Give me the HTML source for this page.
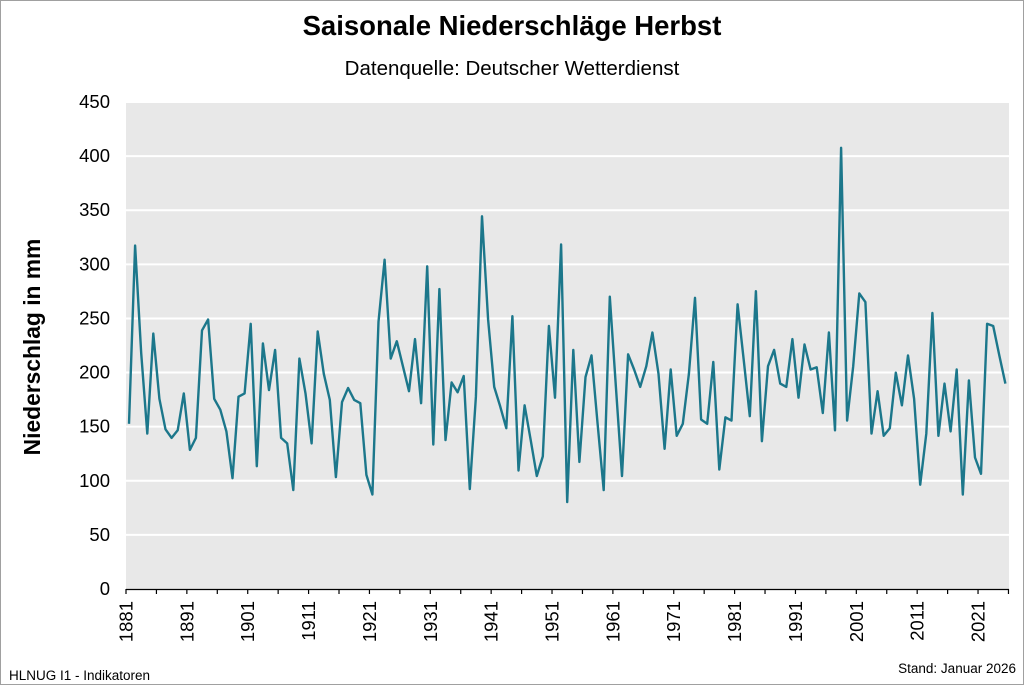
<!DOCTYPE html>
<html><head><meta charset="utf-8"><style>
html,body{margin:0;padding:0;background:#fff}
svg{display:block}
text{font-family:"Liberation Sans",Arial,sans-serif}
</style></head><body>
<svg id="s" width="1024" height="685" viewBox="0 0 1024 685" xmlns="http://www.w3.org/2000/svg">
<rect x="0.5" y="0.5" width="1023" height="684" fill="#fff" stroke="#a0a0a0" stroke-width="1"/>
<text x="512" y="35" text-anchor="middle" font-size="27.5" font-weight="bold" fill="#000">Saisonale Niederschläge Herbst</text>
<text x="512" y="75" text-anchor="middle" font-size="20.5" fill="#000">Datenquelle: Deutscher Wetterdienst</text>
<rect x="126" y="102" width="883" height="487" fill="#e8e8e8"/>
<g id="grid"></g>
<g id="ylab" font-size="18.5" text-anchor="end" fill="#000"></g>
<text transform="translate(40,347) rotate(-90)" text-anchor="middle" font-size="22.8" font-weight="bold" fill="#000">Niederschlag in mm</text>
<line x1="126" y1="589.5" x2="1009" y2="589.5" stroke="#000" stroke-width="1.2"/>
<g id="ticks"></g>
<polyline id="pl" fill="none" stroke="#1c778b" stroke-width="2.4" stroke-linejoin="round"/>
<text x="9" y="680" font-size="13.5" fill="#000">HLNUG I1 - Indikatoren</text>
<text x="1016" y="673" text-anchor="end" font-size="13.5" fill="#000">Stand: Januar 2026</text>
</svg>
<script>
var v=[152,316,217,143,235,175,147,139,146,180,128,139,238,248,175,165,145,102,177,180,244,113,226,183,220,139,134,91,212,180,134,237,198,174,103,172,185,174,171,105,87,246,303,212,228,205,182,230,171,
297,133,276,137,190,181,196,92,177,343,248,186,168,148,251,109,169,137,104,122,242,176,317,80,220,117,195,215,152,91,269,186,104,216,202,186,205,236,198,129,202,141,152,198,268,156,152,
209,110,158,155,262,211,159,274,136,205,220,189,186,230,176,225,202,204,162,236,146,406,155,205,272,264,143,182,141,148,199,169,215,175,96,143,254,141,189,145,202,87,192,121,106,244,242,215,189];
var ns="http://www.w3.org/2000/svg",st=6.086;
function el(t,a,p,tx){var e=document.createElementNS(ns,t);for(var k in a)e.setAttribute(k,a[k]);if(tx)e.textContent=tx;document.getElementById(p).appendChild(e);}
for(var k=0;k<=9;k++){var y=589-k*50*487/450;
 if(k>0)el('line',{x1:126,x2:1009,y1:y,y2:y,stroke:'#fff','stroke-width':2},'grid');
 el('text',{x:110,y:y+6},'ylab',String(k*50));}
for(var i=0;i<=29;i++){var x=126+i*5*st;el('line',{x1:x,x2:x,y1:589,y2:594,stroke:'#000','stroke-width':1.2},'ticks');
 if(i%2==0){el('text',{transform:'translate('+(x+6.5)+',601) rotate(-90)','text-anchor':'end','font-size':18.5,fill:'#000'},'ticks',String(1881+i*5));}}
var p=[];for(var i=0;i<v.length;i++)p.push((129+i*st).toFixed(1)+','+(589-v[i]*1.0867).toFixed(1));
document.getElementById('pl').setAttribute('points',p.join(' '));
</script>
</body></html>
